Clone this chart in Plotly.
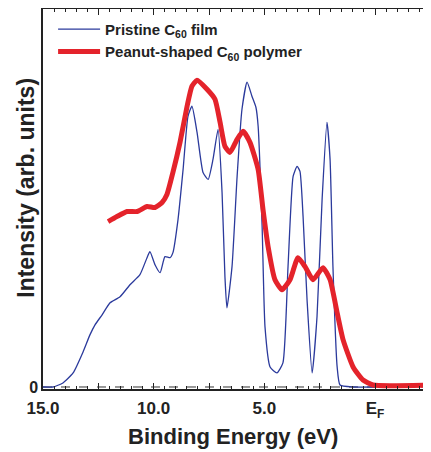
import plotly.graph_objects as go

# Pristine C60 film (binding energy in eV, intensity in arb. units)
pristine_energy = [15.00, 14.55, 14.10, 13.64, 13.19, 12.88, 12.65, 12.33, 11.97, 11.52,
                   11.07, 10.62, 10.30, 10.17, 9.94, 9.71, 9.49, 9.26, 9.13, 8.90,
                   8.67, 8.45, 8.27, 8.04, 7.77, 7.54, 7.32, 7.09, 6.91, 6.78,
                   6.69, 6.46, 6.23, 6.01, 5.78, 5.56, 5.38, 5.28, 5.10, 4.97,
                   4.74, 4.43, 4.16, 3.93, 3.70, 3.52, 3.39, 3.25, 3.07, 2.84,
                   2.62, 2.39, 2.17, 2.03, 1.90, 1.71, 1.58, 0.99, 0.00]
pristine_intensity = [0.00, 0.00, 0.04, 0.14, 0.35, 0.52, 0.62, 0.72, 0.84, 0.90,
                      1.02, 1.12, 1.29, 1.35, 1.22, 1.14, 1.30, 1.29, 1.34, 1.67,
                      2.17, 2.70, 2.80, 2.54, 2.14, 2.07, 2.27, 2.57, 1.94, 1.10,
                      0.79, 1.20, 2.10, 2.77, 3.04, 2.90, 2.79, 2.60, 1.60, 0.60,
                      0.20, 0.14, 0.24, 1.20, 2.10, 2.20, 2.15, 1.70, 0.87, 0.14,
                      0.70, 1.87, 2.64, 2.27, 1.20, 0.20, 0.02, 0.00, 0.00]

# Peanut-shaped C60 polymer
polymer_energy = [12.06, 11.66, 11.20, 10.75, 10.30, 9.94, 9.62, 9.40, 9.13, 8.81,
                  8.49, 8.27, 8.04, 7.59, 7.23, 7.00, 6.78, 6.55, 6.23, 5.96,
                  5.65, 5.28, 5.06, 4.83, 4.52, 4.20, 3.84, 3.48, 3.16, 2.80,
                  2.35, 2.03, 1.71, 1.44, 0.99, 0.54, 0.09, -2.53]
polymer_intensity = [1.65, 1.70, 1.75, 1.75, 1.80, 1.79, 1.84, 1.92, 2.14, 2.44,
                     2.80, 3.00, 3.06, 2.97, 2.87, 2.64, 2.40, 2.34, 2.47, 2.55,
                     2.44, 2.17, 1.77, 1.40, 1.07, 0.97, 1.07, 1.29, 1.20, 1.07,
                     1.19, 1.07, 0.74, 0.47, 0.20, 0.07, 0.02, 0.02]

x_tick_values = [15, 12.5, 10, 7.5, 5, 2.5, 0, -2.5]
x_tick_labels = ["15.0", "", "10.0", "", "5.0", "", "E<sub>F</sub>", ""]
y_tick_values = [0]
y_tick_labels = ["0"]

FONT = "Liberation Sans, Arial, sans-serif"
INK = "#222222"

fig = go.Figure()
fig.add_trace(go.Scatter(
    x=pristine_energy, y=pristine_intensity, mode="lines",
    name="<b>Pristine C<sub>60</sub> film</b>",
    line=dict(color="#2b3a9c", width=1.3, shape="spline", smoothing=0.5),
))
fig.add_trace(go.Scatter(
    x=polymer_energy, y=polymer_intensity, mode="lines",
    name="<b>Peanut-shaped C<sub>60</sub> polymer</b>",
    line=dict(color="#e4232b", width=5, shape="spline", smoothing=0.5),
))

fig.add_shape(type="line", xref="paper", yref="y", x0=0, x1=1, y0=0, y1=0,
              line=dict(color="#333333", width=1, dash="dash"), layer="below")

fig.add_annotation(text="<b>Binding Energy (eV)</b>", xref="paper", yref="paper",
                   x=0.49, y=-0.126, xanchor="center", yanchor="middle", showarrow=False,
                   font=dict(family=FONT, size=22, color=INK))
fig.add_annotation(text="<b>Intensity (arb. units)</b>", xref="paper", yref="paper",
                   x=-0.046, y=0.53, xanchor="center", yanchor="middle", showarrow=False,
                   textangle=-90, font=dict(family=FONT, size=23, color=INK))

fig.update_layout(
    width=431, height=452,
    margin=dict(l=35, r=8, t=1, b=71, autoexpand=False),
    paper_bgcolor="white", plot_bgcolor="white",
    showlegend=True,
    legend=dict(x=0.026, y=0.99, xanchor="left", yanchor="top",
                bgcolor="rgba(0,0,0,0)", font=dict(family=FONT, size=15, color=INK),
                itemwidth=42, tracegroupgap=0),
    xaxis=dict(
        range=[15, -2.53], showgrid=False, zeroline=False, automargin=False,
        showline=True, linecolor=INK, linewidth=1.5, mirror="allticks",
        ticks="inside", ticklen=6, tickcolor=INK, tickwidth=1,
        tickvals=x_tick_values,
        ticktext=["<b>" + t + "</b>" if t else "" for t in x_tick_labels],
        tickfont=dict(family=FONT, size=17, color=INK),
        ticklabelstandoff=3,
        minor=dict(dtick=0.5, ticks="inside", ticklen=3, tickcolor=INK),
    ),
    yaxis=dict(
        range=[-0.02, 3.77], showgrid=False, zeroline=False, automargin=False,
        showline=True, linecolor=INK, linewidth=1.5,
        ticks="", tickvals=y_tick_values,
        ticktext=["<b>" + t + "</b>" for t in y_tick_labels],
        tickfont=dict(family=FONT, size=16, color=INK),
    ),
)

fig.write_html("out.html")
